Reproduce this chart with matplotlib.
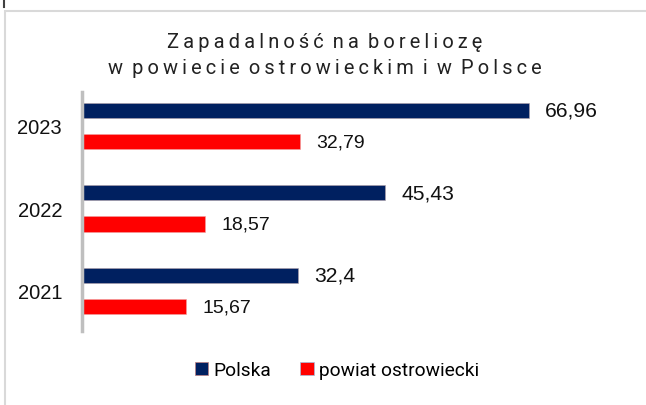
import matplotlib
matplotlib.use("Agg")
import matplotlib.pyplot as plt
import numpy as np
from matplotlib.patches import Rectangle
from matplotlib.lines import Line2D

# dane
years = ["2021", "2022", "2023"]
polska = [32.4, 45.43, 66.96]
powiat = [15.67, 18.57, 32.79]
polska_labels = ["32,4", "45,43", "66,96"]
powiat_labels = ["15,67", "18,57", "32,79"]
series_names = ["Polska", "powiat ostrowiecki"]
title_lines = ["Zapadalność na boreliozę", "w powiecie ostrowieckim i w Polsce"]

NAVY = "#002060"
RED = "#FF0000"
W, H = 646, 406

fig = plt.figure(figsize=(W / 100, H / 100), dpi=100)
fig.patch.set_facecolor("white")

# ramka wykresu (ucięta z prawej i u dołu)
fig.add_artist(Rectangle((4.5 / W, -0.2), 1.2, 1.2 - 11.5 / H, transform=fig.transFigure,
                         fill=False, edgecolor="#D9D9D9", linewidth=1.5))
fig.add_artist(Line2D([4 / W, 4 / W], [1 - 8 / H, 1], transform=fig.transFigure,
                      color="#404040", linewidth=1.5))

ax = fig.add_axes([81.5 / W, 74 / H, (620 - 81.5) / W, 239 / H])
y = np.arange(len(years))
off, h = 0.19, 0.185
ax.barh(y + off, polska, height=h, color=NAVY, edgecolor="#B0A0A8", linewidth=0.4)
ax.barh(y - off, powiat, height=h, color=RED, edgecolor="#F0A0A0", linewidth=0.4)

for yi, v, lab in zip(y, polska, polska_labels):
    ax.annotate(lab, (v, yi + off), xytext=(12, 0), textcoords="offset points",
                va="center", ha="left", fontsize=15.2, family="Liberation Sans", color="#111111")
for yi, v, lab in zip(y, powiat, powiat_labels):
    ax.annotate(lab, (v, yi - off), xytext=(11.5, 0), textcoords="offset points",
                va="center", ha="left", fontsize=14, family="Liberation Sans", color="#111111")

ax.set_xlim(0, (620 - 81.5) / 6.676)
ax.set_ylim(-0.485, 2.41)
ax.set_yticks(y)
ax.set_yticklabels(years, family="Liberation Sans", fontsize=14.5, color="#111111")
ax.tick_params(axis="y", length=0, pad=14)
ax.set_xticks([])
for s in ["top", "right", "bottom"]:
    ax.spines[s].set_visible(False)
ax.spines["left"].set_color("#BFBFBF")
ax.spines["left"].set_linewidth(2.5)

# tytuł z rozstrzelonymi literami
thin = "\u2009"
for i, line in enumerate(title_lines):
    spaced = thin.join(line).replace(thin + " " + thin, " " + thin)
    fig.text(325 / W, 1 - (42 + 26 * i) / H, spaced, ha="center", va="center",
             fontsize=14.4, family=["Roboto", "DejaVu Sans"], color="#222222")

handles = [Rectangle((0, 0), 1, 1, facecolor=NAVY, edgecolor="#C08080", linewidth=0.5),
           Rectangle((0, 0), 1, 1, facecolor=RED, edgecolor="#A0C0E0", linewidth=0.5)]
fig.legend(handles, series_names, loc="center", bbox_to_anchor=(337 / W, 1 - 371 / H),
           ncol=2, frameon=False, handlelength=0.7, handleheight=0.7, handletextpad=0.3,
           columnspacing=1.5, prop={"family": "Roboto", "size": 13.8})

fig.savefig("out.png", dpi=100)
